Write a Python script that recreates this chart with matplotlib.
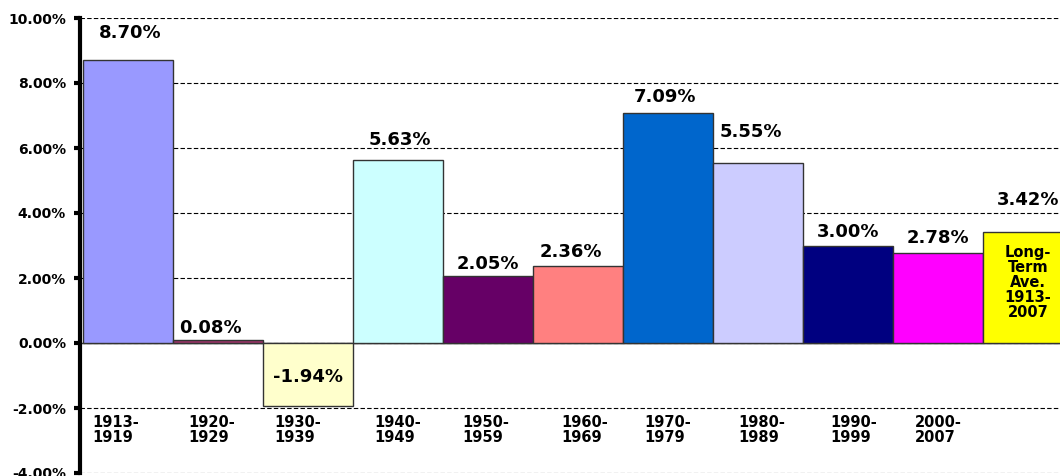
import matplotlib
matplotlib.use("Agg")
import matplotlib.pyplot as plt
from matplotlib.ticker import FuncFormatter, MultipleLocator

# ---- data ----
periods = ["1913-\n1919", "1920-\n1929", "1930-\n1939", "1940-\n1949", "1950-\n1959",
           "1960-\n1969", "1970-\n1979", "1980-\n1989", "1990-\n1999", "2000-\n2007", ""]
values = [8.70, 0.08, -1.94, 5.63, 2.05, 2.36, 7.09, 5.55, 3.00, 2.78, 3.42]
value_labels = ["8.70%", "0.08%", "-1.94%", "5.63%", "2.05%", "2.36%", "7.09%",
                "5.55%", "3.00%", "2.78%", "3.42%"]
long_term_text = "Long-\nTerm\nAve.\n1913-\n2007"
colors = ["#9999FF", "#993366", "#FFFFCC", "#CCFFFF", "#660066", "#FF8080",
          "#0066CC", "#CCCCFF", "#000080", "#FF00FF", "#FFFF00"]

# ---- label placement tweaks (style/positions, not data) ----
lab_dy = [0.84, 0.38, 0.89, 0.62, 0.38, 0.44, 0.48, 0.94, 0.42, 0.45, 0.98]
lab_dx = [0.02, -0.08, 0.0, 0.02, 0.0, -0.08, -0.03, -0.08, 0.0, 0.0, 0.0]
cat_dx = [0.10, 0.17, 0.13, 0.24, 0.21, 0.32, 0.24, 0.28, 0.30, 0.24, 0.0]

FONT = "DejaVu Sans"
fig = plt.figure(figsize=(10.6, 4.76), dpi=100)
ax = fig.add_axes([80 / 1060, 3 / 476, 1 - 80 / 1060, (473 - 18) / 476])

x = list(range(len(values)))
ax.bar(x, values, width=1.0, color=colors, edgecolor="#333333", linewidth=1.0, zorder=3)

ax.set_ylim(-4, 10)
ax.set_xlim(-0.533, 10.356)
ax.yaxis.set_major_locator(MultipleLocator(2))
ax.yaxis.set_major_formatter(FuncFormatter(lambda v, p: f"{v:.2f}%"))
ax.yaxis.grid(True, linestyle=(0, (4, 2)), color="black", linewidth=0.8, zorder=0)
ax.axhline(0, color="#333333", linewidth=1.0, zorder=2)
ax.set_xticks([])
for s in ["top", "right", "bottom"]:
    ax.spines[s].set_visible(False)
ax.spines["left"].set_linewidth(3.0)
ax.tick_params(axis="y", direction="out", length=4, width=3, pad=6)
for t in ax.get_yticklabels():
    t.set_fontfamily(FONT)
    t.set_fontweight("bold")
    t.set_fontsize(10)

for i, v in enumerate(values):
    ax.text(i + lab_dx[i], v + lab_dy[i], value_labels[i], ha="center", va="center",
            fontsize=13, fontweight="bold", family=FONT, zorder=5)

for i, lab in enumerate(periods):
    if lab:
        ax.text(i - 0.5 + cat_dx[i], -2.68, lab, ha="left", va="center",
                fontsize=10.5, fontweight="bold", family=FONT, linespacing=1.0)

ax.text(10, 1.85, long_term_text, ha="center", va="center", fontsize=10.5,
        fontweight="bold", family=FONT, linespacing=1.0, zorder=5)

fig.savefig("out.png", dpi=100)
